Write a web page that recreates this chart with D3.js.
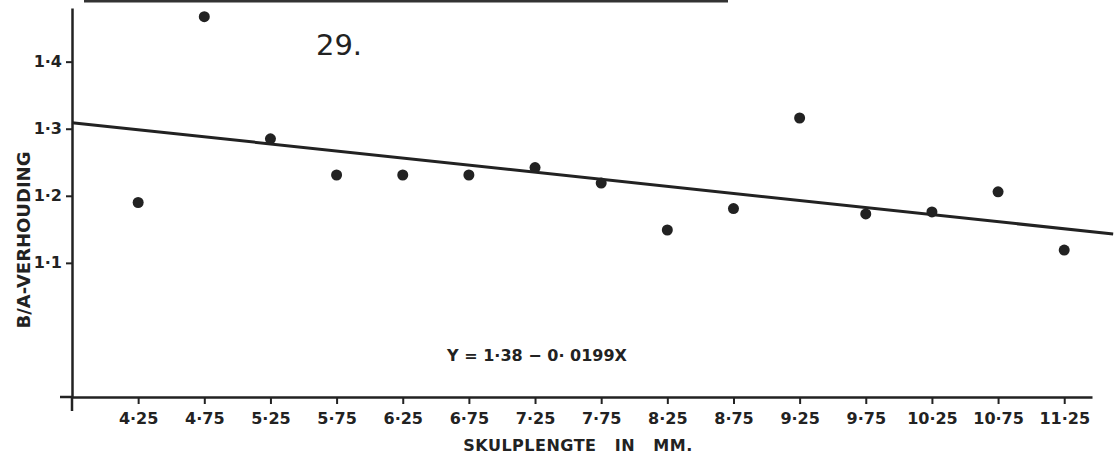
<!DOCTYPE html>
<html>
<head>
<meta charset="utf-8">
<script src="https://cdn.jsdelivr.net/npm/d3@7"></script>
<style>
  html, body { margin: 0; padding: 0; background: #fff; }
  svg { display: block; }
  text { font-family: "DejaVu Sans", Verdana, sans-serif; fill: #222; }
</style>
</head>
<body>
<svg id="chart" width="1116" height="470"></svg>
<script>
// ---- data ----
const categories = [4.25, 4.75, 5.25, 5.75, 6.25, 6.75, 7.25, 7.75, 8.25, 8.75, 9.25, 9.75, 10.25, 10.75, 11.25];
const ratios     = [1.190, 1.467, 1.285, 1.231, 1.231, 1.231, 1.242, 1.219, 1.149, 1.181, 1.316, 1.173, 1.176, 1.206, 1.119];
const xTickLabels = ["4·25","4·75","5·25","5·75","6·25","6·75","7·25","7·75","8·25","8·75","9·25","9·75","10·25","10·75","11·25"];
const yTicks = [1.1, 1.2, 1.3, 1.4];
const yTickLabels = ["1·1","1·2","1·3","1·4"];
const trendX = [3.75, 11.62];
const trendY = [1.309, 1.143];
const title = "29.";
const equation = "Y = 1·38 − 0· 0199X";
const xLabel = "SKULPLENGTE   IN   MM.";
const yLabel = "B/A-VERHOUDING";

// ---- chart ----
const svg = d3.select("#chart");
const ink = "#222";
const fs = 16;

const x = d3.scaleLinear().domain([3.75, 11.46]).range([72, 1092]);
const y = d3.scaleLinear().domain([0.9, 1.48]).range([397, 8]);

// scan border line at top
svg.append("line").attr("x1", 84).attr("x2", 728).attr("y1", 1).attr("y2", 1)
  .attr("stroke", "#333").attr("stroke-width", 3);

// x axis
const xAxis = d3.axisBottom(x).tickValues(categories)
  .tickFormat((d, i) => xTickLabels[i]).tickSize(7).tickSizeOuter(0).tickPadding(9);
const gx = svg.append("g").attr("transform", `translate(0,${y(0.9)})`).call(xAxis);
gx.attr("font-family", null).attr("font-size", null);
gx.select(".domain").attr("stroke", ink).attr("stroke-width", 2.5);
gx.selectAll(".tick line").attr("stroke", ink).attr("stroke-width", 2);
gx.selectAll(".tick text").attr("font-size", fs).attr("font-weight", "bold").attr("fill", ink);
// extension left of origin
svg.append("line").attr("x1", 60).attr("x2", x(3.75)).attr("y1", y(0.9)).attr("y2", y(0.9))
  .attr("stroke", ink).attr("stroke-width", 2.5);

// y axis
const yAxis = d3.axisLeft(y).tickValues(yTicks)
  .tickFormat((d, i) => yTickLabels[i]).tickSize(6).tickSizeOuter(0).tickPadding(4);
const gy = svg.append("g").attr("transform", `translate(${x(3.75)},0)`).call(yAxis);
gy.attr("font-family", null).attr("font-size", null);
gy.select(".domain").attr("stroke", ink).attr("stroke-width", 2.5);
gy.selectAll(".tick line").attr("stroke", ink).attr("stroke-width", 2);
gy.selectAll(".tick text").attr("font-size", fs).attr("font-weight", "bold").attr("fill", ink);
// extension below origin
svg.append("line").attr("x1", x(3.75)).attr("x2", x(3.75)).attr("y1", y(0.9)).attr("y2", 411)
  .attr("stroke", ink).attr("stroke-width", 2.5);

// regression line
svg.append("line")
  .attr("x1", x(trendX[0])).attr("y1", y(trendY[0]))
  .attr("x2", x(trendX[1])).attr("y2", y(trendY[1]))
  .attr("stroke", ink).attr("stroke-width", 3);

// points
svg.append("g").selectAll("circle").data(categories).join("circle")
  .attr("cx", d => x(d)).attr("cy", (d, i) => y(ratios[i]))
  .attr("r", 5.5).attr("fill", ink);

// texts
svg.append("text").attr("x", 339).attr("y", 55).attr("text-anchor", "middle")
  .attr("font-size", 29).text(title);
svg.append("text").attr("x", 537).attr("y", 361).attr("text-anchor", "middle")
  .attr("font-size", fs).attr("font-weight", "bold").text(equation);
svg.append("text").attr("x", 578).attr("y", 451).attr("text-anchor", "middle")
  .attr("font-size", fs).attr("font-weight", "bold").attr("letter-spacing", 0.5)
  .style("white-space", "pre").text(xLabel);
svg.append("text").attr("transform", "translate(30,240) rotate(-90)").attr("text-anchor", "middle")
  .attr("font-size", 18).attr("font-weight", "bold").text(yLabel);
</script>
</body>
</html>
